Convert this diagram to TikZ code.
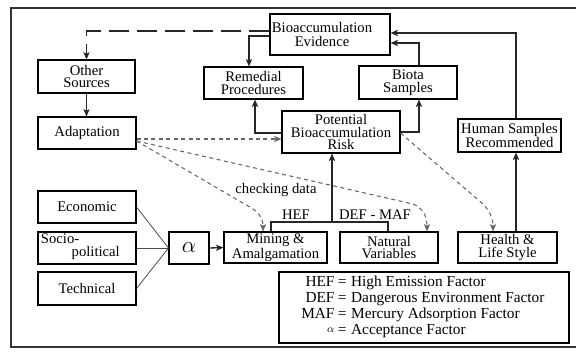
\documentclass[tikz,border=0pt]{standalone}
\usepackage{fontspec}
\setmainfont{Liberation Serif}
\usetikzlibrary{arrows.meta}
\begin{document}
\begin{tikzpicture}[x=0.75pt,y=-0.75pt,
  box/.style={draw=black, line width=0.8pt, inner sep=1pt, align=center,
    font=\fontsize{11}{9.6}\selectfont},
  sz/.style 2 args={minimum width=#1*0.75pt, minimum height=#2*0.75pt},
  txt/.style={inner sep=0.5pt, font=\fontsize{11}{9.6}\selectfont},
  tip/.style={-{Stealth[length=5.5pt,width=4.6pt,inset=1.2pt]}},
  sline/.style={draw=black!85, line width=1pt},
  thin/.style={draw=black!70, line width=0.6pt},
  dshort/.style={draw=black!60, line width=0.8pt, dash pattern=on 3pt off 2.6pt},
  dlong/.style={draw=black!85, line width=1pt, dash pattern=on 15pt off 6pt},
]
\useasboundingbox (0,0) rectangle (576,351);
% outer frame
\draw[draw=black!80, line width=1.5pt] (576,8) -- (11,8) -- (11,347) -- (576,347);

% boxes
\node[box, sz={120}{41}] (ev) at (330,34.5) {};
\node[txt, anchor=west, align=center, font=\fontsize{11}{11.2}\selectfont] (evt) at (271,34.5) {Bioaccumulation\\Evidence};
\node[box, sz={97}{33}] (os) at (86.5,76.5) {Other\\Sources};
\node[box, sz={98}{32}] (ad) at (87,133) {Adaptation};
\node[box, sz={99}{32}] (rp) at (253.5,83) {Remedial\\Procedures};
\node[box, sz={98}{33}] (bs) at (408,82.5) {Biota\\Samples};
\node[box, sz={118}{42}] (pr) at (341,132) {Potential\\Bioaccumulation\\Risk};
\node[box, sz={103}{33}] (hs) at (509.5,135.5) {Human Samples\\Recommended};
\node[box, sz={98}{32}] (ec) at (87,207) {Economic};
\node[box, sz={98}{32}] (sp) at (87,248) {};
\node[txt, anchor=west, align=left] (spt) at (40,247) {Socio-\\\hspace*{2.1em}political};
\node[box, sz={98}{33}] (te) at (87,288.5) {Technical};
\node[box, sz={40}{32}, font=\fontsize{17}{17}\selectfont] (al) at (189,248) {$\alpha$};
\node[box, sz={103}{31}] (mi) at (275.5,247.5) {Mining \&\\Amalgamation};
\node[box, sz={98}{31}] (nv) at (389,247.5) {Natural\\Variables};
\node[box, sz={99}{31}] (hl) at (507.5,247.5) {Health \&\\Life Style};

% legend
\node[box, sz={290}{71}] (lg) at (424,307.5) {};
\node[inner sep=0, anchor=west, font=\fontsize{11.5}{12}\selectfont] (lgt) at (301,307.5)
  {\begin{tabular}{@{}r@{\hspace{2.5pt}=\hspace{3.5pt}}l@{}}
   HEF & High Emission Factor\\
   DEF & Dangerous Environment Factor\\
   MAF & Mercury Adsorption Factor\\
   \raisebox{1.5pt}{\footnotesize$\alpha$} & Acceptance Factor
   \end{tabular}};

% feedback to other sources
\draw[dlong, tip] (ev.west |- 0,31) -| (os.north);
\draw[dlong, tip] (os.south) -- (os.south |- ad.north);

% evidence loop
\draw[sline, tip] (ev.west |- 0,36) -| (249,0 |- rp.north);
\draw[sline, tip] (pr.west |- 0,133) -| (255,0 |- rp.south);
\draw[sline, tip] (pr.east |- 0,132) -| (419,0 |- bs.south);
\draw[sline, tip] (419,0 |- bs.north) |- (ev.east |- 0,43);
\draw[sline, tip] (516,0 |- hs.north) |- (ev.east |- 0,33);
\draw[sline, tip] (516,0 |- hl.north) -- (516,0 |- hs.south);

% adaptation links
\draw[dshort, tip] (ad.east |- 0,139) -- (pr.west |- 0,139);
\draw[dshort, tip] (ad.east |- 0,141) -- (248,206) .. controls (258,211) and (263,218) .. (263,0 |- mi.north);
\draw[dshort, tip] (ad.east |- 0,141) -- (413,204) .. controls (423,208) and (427,216) .. (427,0 |- nv.north);
\draw[dshort, tip] (pr.east |- 0,133) -- (483,204) .. controls (489,210) and (493,218) .. (493,0 |- hl.north);
\node[txt] (chk) at (276,190) {checking data};

% acceptance factor inputs
\draw[thin] (ec.east) -- (al.west);
\draw[thin] (sp.east) -- (al.west);
\draw[thin] (te.east) -- (al.west);
\draw[sline, tip] (al.east) -- (mi.west);

% emission bracket
\coordinate (br) at (332,222);
\draw[sline] (271,0 |- mi.north) |- (br) -| (388,0 |- nv.north);
\draw[sline, tip] (br) -- (br |- pr.south);
\node[txt] (hef) at (296,215) {HEF};
\node[txt] (dm) at (375,215) {DEF - MAF};
\end{tikzpicture}
\end{document}
